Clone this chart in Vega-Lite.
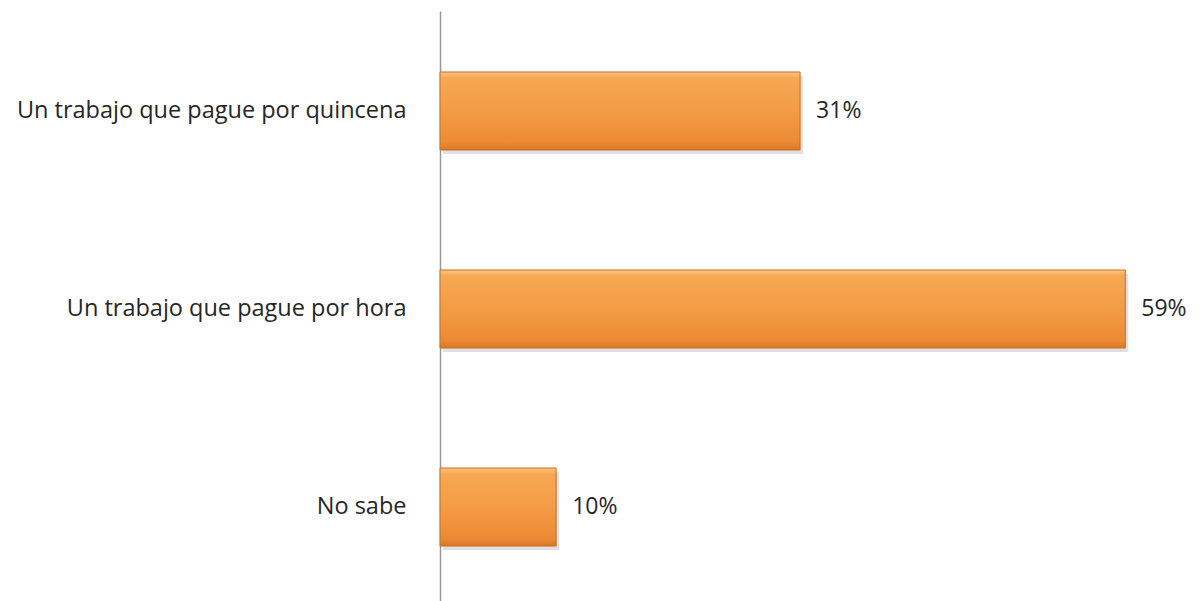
{
  "$schema": "https://vega.github.io/schema/vega-lite/v6.json",
  "autosize": "none",
  "padding": {"left": 440, "top": 11, "right": 0, "bottom": 0},
  "width": 755,
  "height": 596,
  "background": "white",
  "config": {"view": {"stroke": null}, "font": "Open Sans"},
  "data": {"values": [
    {"cat": "Un trabajo que pague por quincena", "v": 0.31},
    {"cat": "Un trabajo que pague por hora", "v": 0.59},
    {"cat": "No sabe", "v": 0.10}
  ]},
  "encoding": {
    "y": {"field": "cat", "type": "nominal", "sort": null,
      "scale": {"paddingInner": 0.606, "paddingOuter": 0.308},
      "axis": {"title": null, "ticks": false, "labelFontSize": 23.5, "labelColor": "#262626", "labelPadding": 34, "domainColor": "#999999", "domainWidth": 1.5, "labelFont": "Open Sans", "labelLimit": 450}},
    "x": {"field": "v", "type": "quantitative", "scale": {"domain": [0, 0.65]}, "axis": null}
  },
  "layer": [
    {"mark": {"type": "bar", "xOffset": 3, "yOffset": 4, "color": "#bbbbbb", "opacity": 0.45}},
    {"mark": {"type": "bar", "stroke": "#c96d22", "strokeWidth": 1,
      "color": {"gradient": "linear", "x1": 0, "y1": 0, "x2": 0, "y2": 1,
        "stops": [{"offset": 0, "color": "#fbc47f"}, {"offset": 0.08, "color": "#f7a852"}, {"offset": 0.5, "color": "#f39c45"}, {"offset": 0.9, "color": "#ec8a33"}, {"offset": 1, "color": "#d9782a"}]}}},
    {"mark": {"type": "text", "align": "left", "dx": 16, "fontSize": 23, "color": "#262626", "font": "Open Sans"},
      "encoding": {"text": {"field": "v", "type": "quantitative", "format": ".0%"}}}
  ]
}
